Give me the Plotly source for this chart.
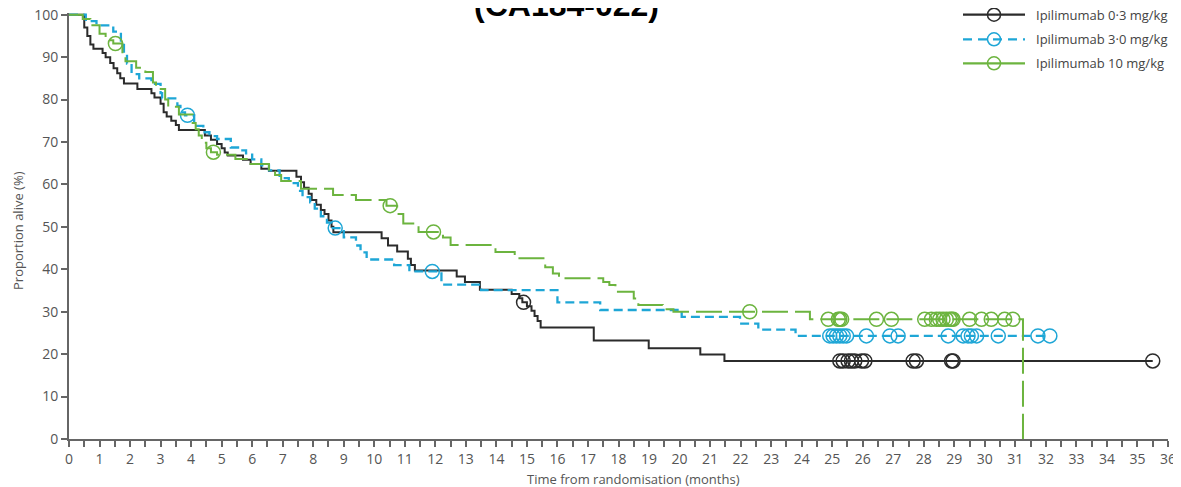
import numpy as np
import plotly.graph_objects as go

# ---------------- data ----------------
# Ipilimumab 0.3 mg/kg : step times (months) and survival (%) after each step
t_low = [0, 0.5, 0.6, 0.7, 0.8, 1.1, 1.2, 1.35, 1.46, 1.58, 1.68, 1.8, 2.24, 2.7, 2.8, 3.0,
         3.1, 3.2, 3.35, 3.5, 3.6, 4.45, 4.65, 4.85, 5.0, 5.1, 5.2, 5.7, 5.95, 6.3, 6.55,
         7.45, 7.6, 7.7, 7.85, 7.95, 8.1, 8.25, 8.37, 8.5, 8.6, 8.66, 10.24, 10.45, 10.75,
         11.1, 11.2, 11.33, 12.7, 12.97, 13.46, 14.5, 14.75, 14.85, 15.0, 15.15, 15.25,
         15.35, 15.45, 17.19, 18.99, 20.68, 21.47]
s_low = [100, 97, 95, 93, 92, 91, 90, 88.6, 87.4, 86.2, 85, 83.8, 82.5, 81.5, 80.5, 79,
         77, 76, 75, 74, 72.8, 71.5, 70.5, 69.5, 68.5, 67.5, 66.8, 65.8, 64.8, 63.7, 63.2,
         61.8, 60.5, 59.2, 57.8, 56.3, 55.2, 54, 53, 51.5, 50, 48.7, 47.3, 45.6, 44.2,
         42.5, 41, 39.7, 38.3, 37, 35.2, 34.2, 33.2, 32.2, 31.3, 30.2, 29,
         27.8, 26.3, 23.2, 21.4, 19.9, 18.4]
end_low = 35.5
cens_low = [14.89, 25.25, 25.36, 25.52, 25.63, 25.74, 25.96, 26.07, 27.65, 27.76,
            28.91, 28.96, 35.5]

# Ipilimumab 3.0 mg/kg
t_mid = [0, 0.55, 0.9, 1.45, 1.7, 1.8, 1.9, 2.05, 2.3, 2.7, 3.0, 3.05, 3.55, 3.65, 3.8,
         4.1, 4.4, 4.6, 4.85, 5.3, 5.6, 5.8, 6.0, 6.3, 6.55, 6.9, 7.2, 7.5, 7.65, 7.9,
         8.05, 8.25, 8.45, 8.6, 9.0, 9.4, 9.55, 9.75, 10.65, 11.15, 12.2, 13.5, 16.0,
         17.4, 20.07, 21.98, 22.58, 23.8]
s_mid = [100, 98.5, 97.5, 96, 93.5, 91, 88.5, 86, 85, 83.7, 81.5, 80.3, 78.5, 77, 76.3,
         73.8, 72.3, 71.4, 70.7, 68.7, 68, 67.3, 65.9, 64.5, 63.3, 61.5, 60.3, 58.5, 57, 55.8,
         54.3, 52.5, 51, 49.7, 47.5, 45.6, 44, 42.3, 41, 39.5, 36.4, 35.1, 32.2,
         30.4, 28.8, 27.2, 25.8, 24.3]
end_mid = 32.13
cens_mid = [3.88, 8.72, 11.9, 24.92, 25.03, 25.14, 25.25, 25.36, 25.47, 26.12, 26.89,
            27.16, 28.8, 29.29, 29.45, 29.56, 29.73, 30.44, 31.74, 32.13]

# Ipilimumab 10 mg/kg
t_high = [0, 0.45, 0.7, 1.0, 1.2, 1.45, 1.75, 1.85, 2.2, 2.5, 2.75, 2.85, 3.15, 3.25,
          3.6, 4.05, 4.15, 4.25, 4.35, 4.5, 4.65, 4.85, 5.45, 5.9, 6.55, 6.75, 6.95, 7.6,
          8.65, 9.4, 10.4, 10.75, 10.95, 11.45, 12.25, 12.5, 13.97, 14.6, 15.6, 15.85,
          16.05, 17.5, 17.7, 17.9, 18.5, 18.65, 19.45, 19.8, 24.27, 31.25]
s_high = [100, 99, 97.5, 95.5, 94, 93.2, 90.5, 89, 87.5, 86.5, 84, 82.5, 80, 78.3,
          76.5, 74.5, 73, 71.5, 69.8, 68.5, 67.6, 67, 66, 64.8, 63, 62.2, 60.8, 59,
          57.5, 56.3, 55, 53, 50.8, 48.8, 47.5, 45.7, 44.1, 42.6, 40.5, 39,
          37.9, 37, 36.3, 34.7, 33.1, 31.6, 30.6, 30, 28.2, 0]
end_high = 31.25
cens_high = [1.52, 4.73, 10.52, 11.94, 22.3, 24.87, 25.2, 25.25, 25.31, 26.45, 26.94,
             28.03, 28.25, 28.41, 28.52, 28.63, 28.74, 28.85, 28.91, 28.96, 29.5, 29.89,
             30.21, 30.65, 30.92]

names = ["Ipilimumab 0·3 mg/kg", "Ipilimumab 3·0 mg/kg", "Ipilimumab 10 mg/kg"]
colors = ["#2b2b2b", "#1ea6d6", "#6cb43f"]
dashes = ["solid", "9px,5px", "26px,7px"]
widths = [2, 2.3, 2]


def surv_at(times, surv, t):
    idx = np.searchsorted(np.asarray(times), t, side="right") - 1
    return surv[int(idx)]


fig = go.Figure()
series = [(t_low, s_low, end_low, cens_low), (t_mid, s_mid, end_mid, cens_mid),
          (t_high, s_high, end_high, cens_high)]
for (tt, ss, te, cc), nm, col, dsh, w in zip(series, names, colors, dashes, widths):
    xs = list(tt)
    ys = list(ss)
    if te > xs[-1]:
        xs.append(te)
        ys.append(ss[-1])
    fig.add_trace(go.Scatter(x=xs, y=ys, mode="lines", line=dict(shape="hv", color=col, width=w, dash=dsh),
                             name=nm, showlegend=False, hoverinfo="skip"))
    cy = [surv_at(tt, ss, c) if c < tt[-1] or ss[-1] > 0 else ss[-2] for c in cc]
    fig.add_trace(go.Scatter(x=cc, y=cy, mode="markers", cliponaxis=False,
                             marker=dict(symbol="circle-open", size=14, color=col, line=dict(width=1.5, color=col)),
                             name=nm, showlegend=False, hoverinfo="skip"))

# ---------------- geometry ----------------
# the page adds an 8px body margin; figure is sized so that the plot area lands
# where the reference has it (page px: x 69..1168, y 13..439)
OFF = 8
FW, FH = 1181 - OFF, 487 - OFF
L, T, W, H = 69, 13, 1099, 426


def px(x):
    return (x - L) / W


def py(y):
    return 1 - (y - T) / H


shapes = []
annotations = []
rows_y = [14.7, 39.3, 63.3]
leg_dash = ["solid", "9px,6px", "solid"]
for ry, nm, col, dsh in zip(rows_y, names, colors, leg_dash):
    shapes.append(dict(type="line", xref="paper", yref="paper", x0=px(963), x1=px(1025),
                       y0=py(ry), y1=py(ry), line=dict(color=col, width=2.2, dash=dsh)))
    shapes.append(dict(type="circle", xref="paper", yref="paper", xsizemode="pixel", ysizemode="pixel",
                       xanchor=px(994), yanchor=py(ry), x0=-6.5, x1=6.5, y0=-6.5, y1=6.5,
                       line=dict(color=col, width=1.5)))
    annotations.append(dict(text=nm, xref="paper", yref="paper", x=px(1034), y=py(ry),
                            xanchor="left", yanchor="middle", showarrow=False,
                            font=dict(family="Open Sans", size=13, color="#444")))

# title (partly cut off at the top, as in the reference)
annotations.append(dict(text="<b>(CA184-022)<sup>2</sup></b>", xref="paper", yref="paper",
                        x=px(572), y=py(3), xanchor="center", yanchor="middle", showarrow=False,
                        font=dict(family="Liberation Sans, Arial", size=32, color="#000")))
# axis titles
annotations.append(dict(text="Time from randomisation (months)", xref="paper", yref="paper",
                        x=px(633), y=py(479), xanchor="center", yanchor="middle", showarrow=False,
                        font=dict(family="Open Sans", size=13, color="#555")))
annotations.append(dict(text="Proportion alive (%)", xref="paper", yref="paper", textangle=-90,
                        x=px(18), y=py(231), xanchor="center", yanchor="middle", showarrow=False,
                        font=dict(family="Open Sans", size=13, color="#555")))

axis_common = dict(showline=True, linecolor="#666", linewidth=2, ticks="outside", ticklen=6,
                   tickwidth=1.5, tickcolor="#666", showgrid=False, zeroline=False, automargin=False,
                   ticklabeloverflow="allow",
                   tickfont=dict(family="Open Sans", size=14, color="#555"))

fig.update_layout(
    width=FW, height=FH,
    margin=dict(l=L - OFF, r=FW - (L - OFF) - W, t=T - OFF, b=FH - (T - OFF) - H, pad=0),
    paper_bgcolor="white", plot_bgcolor="white",
    xaxis=dict(range=[0, 36], tickmode="linear", tick0=0, dtick=1,
               minor=dict(dtick=0.5, ticks="outside", ticklen=6, tickwidth=1.5, tickcolor="#666"),
               **axis_common),
    yaxis=dict(range=[0, 100.4], tickmode="linear", tick0=0, dtick=10, **axis_common),
    shapes=shapes, annotations=annotations, showlegend=False,
)

fig.write_html("out.html")
